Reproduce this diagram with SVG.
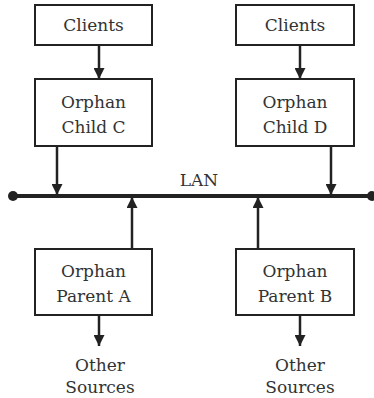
<svg xmlns="http://www.w3.org/2000/svg" width="374" height="398" viewBox="0 0 374 398">
  <style>
    .box { fill: #ffffff; stroke: #222222; stroke-width: 2; }
    .lbl { font-family: "DejaVu Serif", "Liberation Serif", serif; font-size: 17px; fill: #333333; text-anchor: middle; }
    .wire { stroke: #222222; stroke-width: 2.5; fill: none; marker-end: url(#head); }
    .bus { stroke: #222222; stroke-width: 4; }
  </style>
  <defs>
    <marker id="head" viewBox="0 0 10 10" refX="10" refY="5" markerUnits="userSpaceOnUse" markerWidth="11" markerHeight="11" orient="auto">
      <path d="M0,0 L10,5 L0,10 z" fill="#222222"/>
    </marker>
  </defs>

  <!-- LAN bus -->
  <g id="lan">
    <line class="bus" x1="13" y1="196" x2="372" y2="196"/>
    <circle cx="13" cy="196" r="5" fill="#222222"/>
    <circle cx="372" cy="196" r="5" fill="#222222"/>
    <text class="lbl" x="199" y="186">LAN</text>
  </g>

  <!-- Connectors -->
  <g id="connectors">
    <line class="wire" x1="99" y1="45" x2="99" y2="79"/>
    <line class="wire" x1="300" y1="45" x2="300" y2="79"/>
    <line class="wire" x1="57" y1="146" x2="57" y2="195"/>
    <line class="wire" x1="331" y1="146" x2="331" y2="195"/>
    <line class="wire" x1="132" y1="249" x2="132" y2="197"/>
    <line class="wire" x1="258" y1="249" x2="258" y2="197"/>
    <line class="wire" x1="99" y1="315" x2="99" y2="346"/>
    <line class="wire" x1="300" y1="315" x2="300" y2="346"/>
  </g>

  <g id="clients-c">
    <rect class="box" x="35" y="5" width="117" height="40"/>
    <text class="lbl" x="93.5" y="31">Clients</text>
  </g>
  <g id="clients-d">
    <rect class="box" x="236" y="5" width="118" height="40"/>
    <text class="lbl" x="295" y="31">Clients</text>
  </g>

  <g id="child-c">
    <rect class="box" x="35" y="79" width="117" height="67"/>
    <text class="lbl" x="93.5" y="108">Orphan</text>
    <text class="lbl" x="93.5" y="133">Child C</text>
  </g>
  <g id="child-d">
    <rect class="box" x="236" y="79" width="118" height="67"/>
    <text class="lbl" x="295" y="108">Orphan</text>
    <text class="lbl" x="295" y="133">Child D</text>
  </g>

  <g id="parent-a">
    <rect class="box" x="35" y="249" width="117" height="66"/>
    <text class="lbl" x="93.5" y="277">Orphan</text>
    <text class="lbl" x="93.5" y="302">Parent A</text>
  </g>
  <g id="parent-b">
    <rect class="box" x="236" y="249" width="118" height="66"/>
    <text class="lbl" x="295" y="277">Orphan</text>
    <text class="lbl" x="295" y="302">Parent B</text>
  </g>

  <g id="sources-a">
    <text class="lbl" x="100" y="371">Other</text>
    <text class="lbl" x="100" y="393">Sources</text>
  </g>
  <g id="sources-b">
    <text class="lbl" x="300" y="371">Other</text>
    <text class="lbl" x="300" y="393">Sources</text>
  </g>
</svg>
